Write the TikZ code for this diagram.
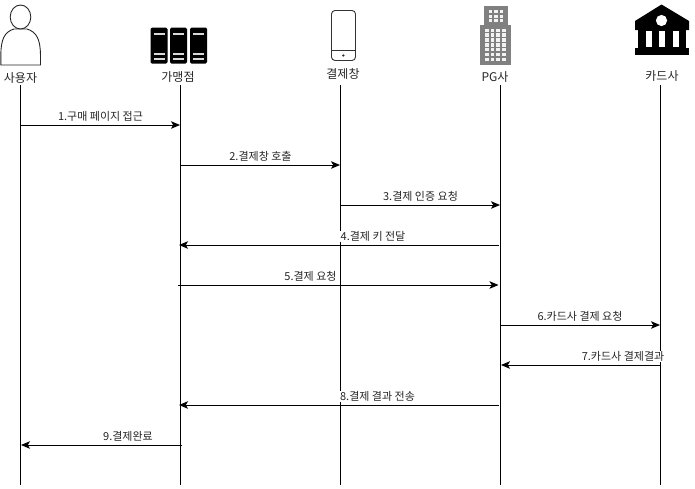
\documentclass[tikz,border=0pt]{standalone}
\usepackage{fontspec}
\setmainfont{Liberation Sans}
\newfontfamily\krfont{Noto Sans CJK KR}
\usetikzlibrary{arrows.meta}
\tikzset{
  lifeline/.style={draw=black,line width=0.95pt},
  msg/.style={draw=black,line width=0.95pt,-{Stealth[length=9pt,width=7.5pt,inset=2.2pt]}},
  actorlabel/.style={font=\krfont\fontsize{12}{13}\selectfont,inner sep=0pt,text=black!85},
  msglabel/.style={font=\krfont\fontsize{11}{12}\selectfont,inner sep=0.5pt,fill=white,text=black!85},
  iconline/.style={draw=black!85,line width=0.9pt,fill=white}
}
\begin{document}
\begin{tikzpicture}[x=1pt,y=-1pt]
\useasboundingbox (0,0) rectangle (695,488);
\fill[white] (0,0) rectangle (695,488);
% lifeline ends
\foreach \n/\x in {a/20.5,b/180.5,c/340.5,d/500.5,e/660.5}{
  \coordinate (\n0) at (\x,85);
  \coordinate (\n1) at (\x,485);
  \draw[lifeline] (\n0) -- (\n1);
}
% person
\draw[iconline] (0.8,65) -- (0.8,55) .. controls (1,40) and (4,32) .. (14,29) -- (27,29)
  .. controls (37,32) and (40.3,40) .. (40.5,55) -- (40.5,65) -- cycle;
\draw[iconline] (20.5,17) ellipse [x radius=10.3,y radius=12];
\node[actorlabel] (user) at (20.5,78.5) {사용자};
% servers
\foreach \x in {150.5,170,190}{
  \fill[black,rounded corners=1.5pt] (\x,27.5) rectangle ++(17,36);
  \fill[black!15] (\x+3,33) rectangle ++(11,1.5);
  \fill[black!15] (\x+3,53) rectangle ++(11,1.5);
  \fill[black!15] (\x+3,58) rectangle ++(11,1.5);
}
\node[actorlabel] (shop) at (178,76.5) {가맹점};
% phone
\draw[draw=black!80,line width=0.9pt,rounded corners=3.5pt,fill=white] (331.5,10.5) rectangle (355.5,60.5);
\draw[draw=black!80,line width=0.9pt] (331.5,50.5) -- (355.5,50.5);
\fill[black!85] (343.3,55.5) circle (1.2);
\node[actorlabel] (pay) at (343,73.5) {결제창};
% building
\fill[black!50] (484,6) rectangle (508,25.5);
\fill[black!50] (480.3,25) rectangle (511,64.5);
\foreach \i in {0,1,2}\foreach \j in {0,1,2}{
  \fill[black!5] (488.5+\i*5.5,10+\j*4.5) rectangle ++(3.7,3);
}
\foreach \i in {0,1,2,3}\foreach \j in {0,...,6}{
  \fill[black!5] (485+\i*5.6,28.5+\j*4.9) rectangle ++(3.8,3.3);
}
\node[actorlabel] (pg) at (495,77.5) {PG사};
% bank
\fill[black] (661.5,4.5) -- (689,21) -- (689,30) -- (635,30) -- (635,21) -- cycle;
\fill[white] (661.5,20.5) circle (5.6);
\fill[black] (638,29) rectangle (686,48);
\foreach \x in {646,659.3,672.8}{\fill[white] (\x,31) rectangle ++(5.7,16);}
\fill[black] (635,47.5) rectangle (689,55);
\node[actorlabel] (card) at (662,76.5) {카드사};
% arrows
\coordinate (m1a) at (20.5,125); \coordinate (m1b) at (180,125);
\coordinate (m2a) at (180.5,165); \coordinate (m2b) at (340,165);
\coordinate (m3a) at (340.5,205); \coordinate (m3b) at (500,205);
\coordinate (m4a) at (499,245); \coordinate (m4b) at (179,245);
\coordinate (m5a) at (178,285); \coordinate (m5b) at (498.5,285);
\coordinate (m6a) at (500.5,325); \coordinate (m6b) at (660,325);
\coordinate (m7a) at (660.5,365); \coordinate (m7b) at (501,365);
\coordinate (m8a) at (499,405); \coordinate (m8b) at (179,405);
\coordinate (m9a) at (182,445); \coordinate (m9b) at (21,445);
\foreach \k in {1,...,9}{\draw[msg] (m\k a) -- (m\k b);}
% labels
\node[msglabel] (l1) at (100.5,116.5) {1.구매 페이지 접근};
\node[msglabel] (l2) at (260.5,156.5) {2.결제창 호출};
\node[msglabel] (l3) at (420.5,196.5) {3.결제 인증 요청};
\node[msglabel] (l4) at (373,236.5) {4.결제 키 전달};
\node[msglabel] (l5) at (310.5,276.5) {5.결제 요청};
\node[msglabel] (l6) at (580,316.5) {6.카드사 결제 요청};
\node[msglabel] (l7) at (623,356.5) {7.카드사 결제결과};
\node[msglabel] (l8) at (377.5,396.5) {8.결제 결과 전송};
\node[msglabel] (l9) at (128,436.5) {9.결제완료};
\end{tikzpicture}
\end{document}
